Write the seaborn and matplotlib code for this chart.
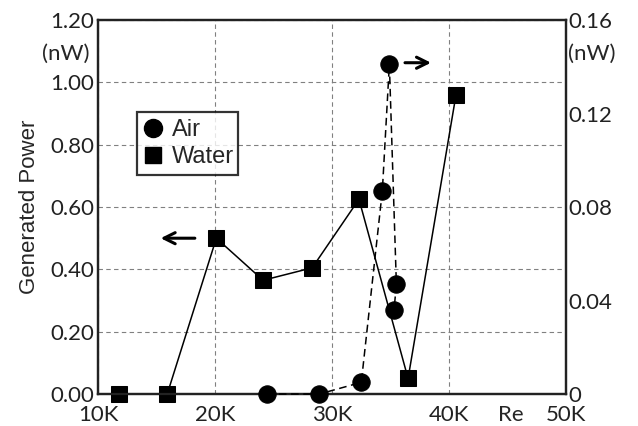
import matplotlib
matplotlib.use("Agg")
import numpy as np
import pandas as pd
import seaborn as sns
import matplotlib.pyplot as plt
from matplotlib.lines import Line2D
from matplotlib.ticker import FuncFormatter

# Data (Re in thousands)
water_re = [11.8, 15.9, 20.1, 24.1, 28.3, 32.3, 36.5, 40.6]
water_power = [0.0, 0.0, 0.50, 0.365, 0.405, 0.625, 0.05, 0.96]   # left axis, nW
air_re = [24.4, 28.9, 32.5, 34.3, 34.9, 35.5, 35.3]
air_power = [0.0, 0.0, 0.005, 0.087, 0.141, 0.047, 0.036]         # right axis, nW

x_ticks = [10, 20, 30, 40, 50]
left_ticks = [0.0, 0.2, 0.4, 0.6, 0.8, 1.0, 1.2]
right_ticks = [0.0, 0.04, 0.08, 0.12, 0.16]

water = pd.DataFrame({"Re": water_re, "Power": water_power})
air = pd.DataFrame({"Re": air_re, "Power": air_power})

sns.set_style("white")
plt.rcParams["font.family"] = ["Lato", "DejaVu Sans"]
tick_fs = 16

fig = plt.figure(figsize=(6.38, 4.26), dpi=100)
ax = fig.add_axes([0.154, 0.075, 0.733, 0.878])
ax2 = ax.twinx()

sns.lineplot(data=water, x="Re", y="Power", ax=ax, sort=False, color="black",
             linewidth=1.1, marker="s", markersize=11, markeredgecolor="black",
             clip_on=False, zorder=5)
sns.lineplot(data=air, x="Re", y="Power", ax=ax2, sort=False, color="black",
             linewidth=1.1, linestyle=(0, (5, 3)), marker="o", markersize=12.5,
             markeredgecolor="black", clip_on=False, zorder=5)

ax.set_xlim(10, 50)
ax.set_ylim(0, 1.2)
ax2.set_ylim(0, 0.16)
ax.set_xticks(x_ticks)
ax.set_yticks(left_ticks)
ax2.set_yticks(right_ticks)
ax.xaxis.set_major_formatter(FuncFormatter(lambda v, p: f"{int(v)}K"))
ax.yaxis.set_major_formatter(FuncFormatter(lambda v, p: f"{v:.2f}"))
ax2.yaxis.set_major_formatter(FuncFormatter(lambda v, p: "0" if v == 0 else f"{v:.2f}"))

ax.grid(True, linestyle=(0, (4, 3)), color="#808080", linewidth=0.8)
ax2.grid(False)
ax.set_axisbelow(True)

for a in (ax, ax2):
    for s in a.spines.values():
        s.set_color("#222222")
        s.set_linewidth(1.6)
ax.tick_params(axis="both", length=0, labelsize=tick_fs, pad=3, colors="#222222")
ax2.tick_params(axis="y", length=0, labelsize=tick_fs, pad=2, colors="#222222")
ax.tick_params(axis="x", pad=8)

ax.set_xlabel("")
ax.set_ylabel("Generated Power", fontsize=16, family="Liberation Sans", labelpad=7)
ax2.set_ylabel("")

ax.text(-0.018, 0.91, "(nW)", transform=ax.transAxes, ha="right", va="center", fontsize=tick_fs)
ax2.text(1.005, 0.91, "(nW)", transform=ax2.transAxes, ha="left", va="center", fontsize=tick_fs)
ax.text(45.3, -0.036, "Re", ha="center", va="top", fontsize=tick_fs)

# direction arrows
ax.annotate("", xy=(15.1, 0.50), xytext=(18.5, 0.50),
            arrowprops=dict(arrowstyle="->", color="black", lw=2.2, mutation_scale=20))
ax.annotate("", xy=(38.7, 1.063), xytext=(36.0, 1.063),
            arrowprops=dict(arrowstyle="->", color="black", lw=2.2, mutation_scale=20))

handles = [Line2D([], [], marker="o", color="black", linestyle="none", markersize=13),
           Line2D([], [], marker="s", color="black", linestyle="none", markersize=11)]
leg = ax2.legend(handles, ["Air", "Water"], loc="upper left", bbox_to_anchor=(0.083, 0.754),
                 borderaxespad=0, frameon=True, fancybox=False, edgecolor="black",
                 prop={"family": "Liberation Sans", "size": 17},
                 handletextpad=0.3, labelspacing=0.2, borderpad=0.3, handlelength=1.0)
leg.get_frame().set_linewidth(1.6)
# widen the frame a little to the right, as in the original box
leg._legend_box.set_width(leg._legend_box.get_window_extent(fig.canvas.get_renderer()).width / fig.dpi * 72 + 10)

fig.savefig("out.png", dpi=100)
